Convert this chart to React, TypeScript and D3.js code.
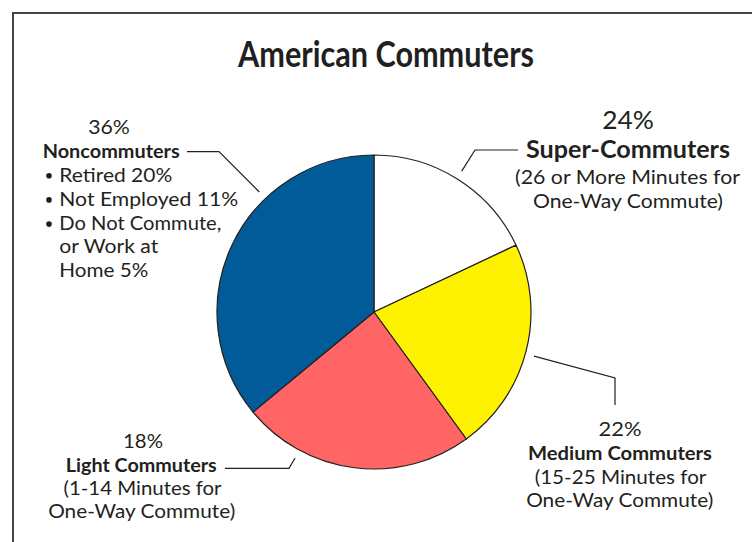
import React from "react";
import * as d3 from "d3";

// Slices as drawn, clockwise from 12 o'clock
const sliceNames = ["Super-Commuters", "Medium Commuters", "Light Commuters", "Noncommuters"];
const sliceValues = [18, 22, 24, 36];
const sliceColors = ["#ffffff", "#fff200", "#ff6565", "#005b98"];

// Label texts (as printed)
const labelPercents = ["24%", "22%", "18%", "36%"];
const superLines = ["(26 or More Minutes for", "One-Way Commute)"];
const mediumLines = ["(15-25 Minutes for", "One-Way Commute)"];
const lightLines = ["(1-14 Minutes for", "One-Way Commute)"];
const nonBullets = ["Retired 20%", "Not Employed 11%", "Do Not Commute,"];
const nonContinuation = ["or Work at", "Home 5%"];

const W = 752;
const H = 542;
const cx = 374;
const cy = 312;
const R = 157;
const TXT = "#231f20";
const FONT = "Lato, 'Noto Sans', sans-serif";

type T = { x: number; y: number; s: string; size: number; bold?: boolean; len?: number; anchor?: string };

function Txt({ x, y, s, size, bold, len, anchor = "middle" }: T) {
  return (
    <text
      x={x}
      y={y}
      fontSize={size}
      fontWeight={bold ? 700 : 400}
      textAnchor={anchor as any}
      fill={TXT}
      fontFamily={FONT}
      textLength={len}
      lengthAdjust="spacingAndGlyphs"
    >
      {s}
    </text>
  );
}

export default function App() {
  const pie = d3
    .pie<number>()
    .sort(null)
    .startAngle(0)
    .endAngle(2 * Math.PI)
    .value((d) => d);
  const arcs = pie(sliceValues);
  const arc = d3.arc<d3.PieArcDatum<number>>().innerRadius(0).outerRadius(R);

  const polar = (deg: number, r: number): [number, number] => {
    const a = (deg * Math.PI) / 180;
    return [cx + r * Math.sin(a), cy - r * Math.cos(a)];
  };
  const line = d3.line();

  const rL = R + 9;
  const superPath = line([polar(31.9, rL), [475, 150], [518, 150]]);
  const medPath = line([polar(105.4, rL), [615, 378], [615, 405]]);
  const lightPath = line([polar(208.4, rL), [289, 468.3], [225, 468.3]]);
  const nonPath = line([polar(316.3, rL), [219, 151.7], [187, 151.7]]);

  const widthsNonBullets = [113, 179, 162];
  const widthsNonCont = [99, 89];

  return (
    <svg
      width={W}
      height={H}
      style={{ position: "absolute", left: 0, top: 0, display: "block", background: "#fff" }}
    >
      <rect x={0} y={0} width={W} height={H} fill="#fff" />
      <path d={`M13,${H} L13,13 L${W},13`} fill="none" stroke="#444" strokeWidth={2} />

      <Txt x={386} y={66.7} s="American Commuters" size={36} bold len={296} />

      <g transform={`translate(${cx},${cy})`}>
        {arcs.map((a, i) => (
          <path key={sliceNames[i]} d={arc(a) || ""} fill={sliceColors[i]} stroke="#231f20" strokeWidth={1.2} strokeLinejoin="round" />
        ))}
      </g>

      <g fill="none" stroke={TXT} strokeWidth={1.2}>
        <path d={superPath || ""} />
        <path d={medPath || ""} />
        <path d={lightPath || ""} />
        <path d={nonPath || ""} />
      </g>

      {/* Super-Commuters */}
      <Txt x={628} y={129.3} s={labelPercents[0]} size={25} len={51.7} />
      <Txt x={628} y={158.3} s={sliceNames[0]} size={25} bold len={204} />
      <Txt x={627.5} y={183.5} s={superLines[0]} size={18.5} len={225} />
      <Txt x={628} y={208} s={superLines[1]} size={18.5} len={190} />

      {/* Medium Commuters */}
      <Txt x={620} y={436} s={labelPercents[1]} size={18.5} len={43} />
      <Txt x={620} y={460} s={sliceNames[1]} size={18.5} bold len={184} />
      <Txt x={620.5} y={483.5} s={mediumLines[0]} size={18.5} len={171.7} />
      <Txt x={619.7} y={507} s={mediumLines[1]} size={18.5} len={187} />

      {/* Light Commuters */}
      <Txt x={143} y={448.3} s={labelPercents[2]} size={18.5} len={40} />
      <Txt x={141.3} y={471.7} s={sliceNames[2]} size={18.5} bold len={151} />
      <Txt x={142.5} y={495} s={lightLines[0]} size={18.5} len={158} />
      <Txt x={141.7} y={518.3} s={lightLines[1]} size={18.5} len={187} />

      {/* Noncommuters */}
      <Txt x={109} y={134.3} s={labelPercents[3]} size={18.5} len={41.7} />
      <Txt x={42.7} y={158} s={sliceNames[3]} size={18.5} bold len={137} anchor="start" />
      {nonBullets.map((s, i) => (
        <g key={s}>
          <circle cx={49} cy={181.7 + i * 24.2 - 6} r={2.8} fill={TXT} />
          <Txt x={59.3} y={181.7 + i * 24.2} s={s} size={18.5} len={widthsNonBullets[i]} anchor="start" />
        </g>
      ))}
      {nonContinuation.map((s, i) => (
        <Txt key={s} x={59.3} y={181.7 + (i + 3) * 23.8} s={s} size={18.5} len={widthsNonCont[i]} anchor="start" />
      ))}
    </svg>
  );
}
